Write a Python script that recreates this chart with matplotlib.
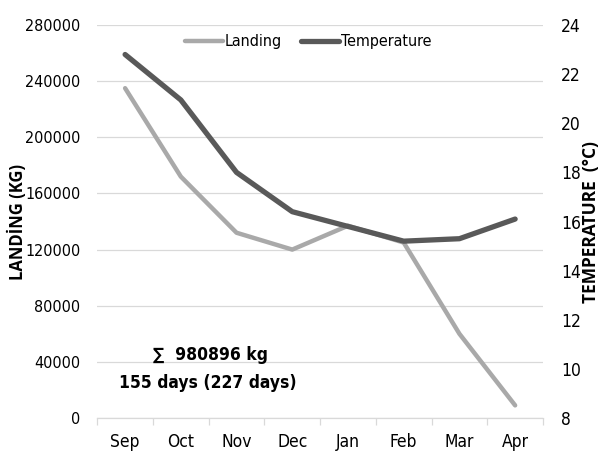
import matplotlib.pyplot as plt
import numpy as np

# data
months = ["Sep", "Oct", "Nov", "Dec", "Jan", "Feb", "Mar", "Apr"]
landing = [235000, 172000, 132000, 120000, 137000, 125000, 60000, 9000]
temperature = [22.8, 20.95, 18.0, 16.4, 15.8, 15.2, 15.3, 16.1]

left_ticks = [0, 40000, 80000, 120000, 160000, 200000, 240000, 280000]
right_ticks = [8, 10, 12, 14, 16, 18, 20, 22, 24]

C_LAND = "#a9a9a9"
C_TEMP = "#595959"

narrow = dict(family='DejaVu Sans', stretch='condensed')

fig = plt.figure(figsize=(6.04, 4.55), dpi=100)
ax = fig.add_axes([0.161, 0.0813, 0.738, 0.8637])
ax2 = ax.twinx()

x = np.arange(len(months))
l1, = ax.plot(x, landing, color=C_LAND, lw=3.2, solid_capstyle='round', label="Landing", zorder=3)
l2, = ax2.plot(x, temperature, color=C_TEMP, lw=3.8, solid_capstyle='round', label="Temperature", zorder=3)

ax.set_xlim(-0.5, len(months) - 0.5)
ax.set_ylim(0, 280000)
ax2.set_ylim(8, 24)
ax.set_yticks(left_ticks)
ax2.set_yticks(right_ticks)

ax.grid(axis='y', color='#d9d9d9', lw=0.9)
ax.set_axisbelow(True)
for a in (ax, ax2):
    for s in a.spines.values():
        s.set_visible(False)
ax.spines['bottom'].set_visible(True)
ax.spines['bottom'].set_color('#d9d9d9')
ax.spines['bottom'].set_linewidth(0.9)

# excel-style ticks between categories
ax.set_xticks(x)
ax.set_xticklabels(months)
ax.set_xticks(np.arange(-0.5, len(months)), minor=True)
ax.tick_params(axis='x', which='major', length=0, pad=11)
ax.tick_params(axis='x', which='minor', length=5, color='#d9d9d9', width=0.9)
ax.tick_params(axis='y', length=0, pad=12)
ax2.tick_params(axis='y', length=0, pad=13)
for t in ax.get_xticklabels() + ax.get_yticklabels() + ax2.get_yticklabels():
    t.set_fontfamily('DejaVu Sans')
    t.set_fontstretch('condensed')
    t.set_fontsize(11.5)
for t in ax.get_xticklabels() + ax2.get_yticklabels():
    t.set_fontsize(12.5)

ax.set_ylabel("LANDİNG (KG)", fontsize=12, fontweight='bold', family='Open Sans', fontstretch='normal')
ax2.set_ylabel("TEMPERATURE  (°C)", fontsize=12.5, fontweight='bold', family='Open Sans', fontstretch='normal')
ax.yaxis.set_label_coords(-0.158, 0.5)
ax2.yaxis.set_label_coords(1.087, 0.5)

leg = ax.legend(handles=[l1, l2], loc='center', bbox_to_anchor=(0.473, 0.957), ncol=2,
                frameon=False, handlelength=2.4, handletextpad=0.1, columnspacing=1.2,
                prop={'family': 'DejaVu Sans', 'stretch': 'condensed', 'size': 11.5})

ax.text(0.253, 0.16, "∑  980896 kg", transform=ax.transAxes, ha='center', va='center',
        fontsize=12.5, fontweight='bold', **narrow)
ax.text(0.249, 0.089, "155 days (227 days)", transform=ax.transAxes, ha='center', va='center',
        fontsize=12.5, fontweight='bold', **narrow)

fig.savefig("out.png", dpi=100)
